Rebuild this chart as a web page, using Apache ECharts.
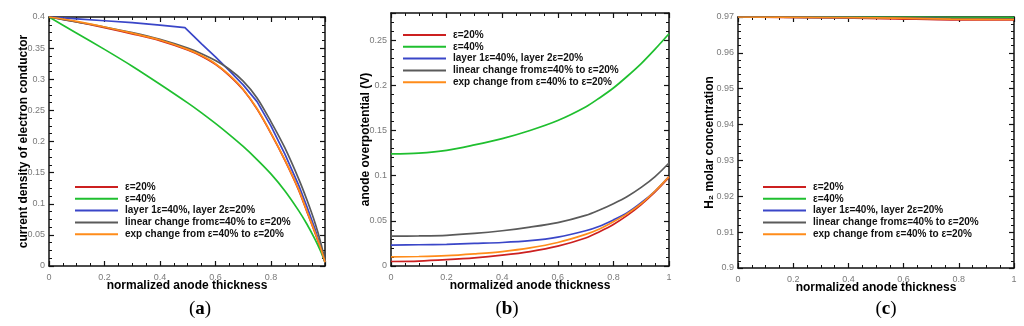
<!DOCTYPE html>
<html>
<head>
<meta charset="utf-8">
<script src="https://cdn.jsdelivr.net/npm/echarts@6/dist/echarts.min.js"></script>
<style>html,body{margin:0;padding:0;background:#fff}#c{width:1024px;height:326px}</style>
</head>
<body>
<div id="c"></div>
<script>
// ---------- data ----------
var seriesNames = ['ε=20%', 'ε=40%', 'layer 1ε=40%, layer 2ε=20%', 'linear change fromε=40% to ε=20%', 'exp change from ε=40% to ε=20%'];

// panel (a): current density of electron conductor
var xA      = [0, 0.1, 0.2, 0.3, 0.4, 0.5, 0.55, 0.6, 0.65, 0.7, 0.75, 0.8, 0.85, 0.9, 0.93, 0.96, 0.98, 0.995];
var aRed    = [0.400, 0.392, 0.383, 0.373, 0.362, 0.347, 0.337, 0.324, 0.306, 0.283, 0.252, 0.213, 0.170, 0.122, 0.087, 0.052, 0.027, 0.006];
var aGreen  = [0.400, 0.374, 0.348, 0.321, 0.292, 0.262, 0.246, 0.229, 0.211, 0.192, 0.171, 0.148, 0.121, 0.089, 0.067, 0.042, 0.023, 0.006];
var aGray   = [0.400, 0.392, 0.384, 0.375, 0.364, 0.350, 0.341, 0.330, 0.316, 0.297, 0.270, 0.232, 0.190, 0.140, 0.106, 0.068, 0.037, 0.008];
var aOrange = [0.400, 0.393, 0.384, 0.374, 0.363, 0.348, 0.338, 0.325, 0.307, 0.284, 0.253, 0.214, 0.171, 0.123, 0.088, 0.053, 0.028, 0.006];
var xABlue  = [0, 0.1, 0.2, 0.3, 0.4, 0.49, 0.55, 0.6, 0.65, 0.7, 0.75, 0.8, 0.85, 0.9, 0.93, 0.96, 0.98, 0.995];
var aBlue   = [0.400, 0.397, 0.394, 0.391, 0.387, 0.383, 0.357, 0.336, 0.314, 0.291, 0.264, 0.225, 0.180, 0.130, 0.095, 0.058, 0.030, 0.006];

// panel (b): anode overpotential (V)
var xB      = [0, 0.1, 0.2, 0.3, 0.4, 0.5, 0.6, 0.7, 0.75, 0.8, 0.85, 0.9, 0.95, 1.0];
var bRed    = [0.005, 0.0055, 0.007, 0.009, 0.012, 0.016, 0.022, 0.031, 0.038, 0.046, 0.056, 0.068, 0.082, 0.098];
var bGreen  = [0.124, 0.125, 0.128, 0.134, 0.141, 0.150, 0.161, 0.176, 0.186, 0.197, 0.210, 0.224, 0.240, 0.257];
var bBlue   = [0.023, 0.0235, 0.024, 0.025, 0.026, 0.028, 0.032, 0.039, 0.044, 0.051, 0.059, 0.070, 0.083, 0.099];
var bGray   = [0.033, 0.0333, 0.034, 0.036, 0.039, 0.043, 0.048, 0.056, 0.062, 0.069, 0.077, 0.087, 0.099, 0.114];
var bOrange = [0.010, 0.0105, 0.0115, 0.0135, 0.016, 0.020, 0.026, 0.035, 0.041, 0.049, 0.058, 0.069, 0.083, 0.099];

// panel (c): H2 molar concentration
var xC      = [0, 0.27, 0.57, 0.77, 1.0];
var cRed    = [0.9700, 0.9698, 0.9695, 0.9692, 0.9692];
var cGreen  = [0.9700, 0.9700, 0.9700, 0.9699, 0.9699];
var cBlue   = [0.9700, 0.9699, 0.9697, 0.9695, 0.9694];
var cGray   = [0.9700, 0.9699, 0.9698, 0.9696, 0.9695];
var cOrange = [0.9700, 0.9699, 0.9697, 0.9694, 0.9693];

var panelLabels = ['a', 'b', 'c'];

// ---------- styling ----------
var colors = ['#cc2020', '#1fbf2f', '#3a46c8', '#5a5a5a', '#ff8c1a'];
var FONT = 'Liberation Sans, Arial, sans-serif';

function zip(xs, ys) { return xs.map(function (x, i) { return [x, ys[i]]; }); }

var grids = [
  {left: 49, top: 17, width: 276, height: 249},
  {left: 391, top: 13, width: 278, height: 253},
  {left: 738, top: 17, width: 276, height: 251}
];

function axisBase(extra) {
  var o = {
    type: 'value',
    nameMoveOverlap: false,
    axisLine: {show: true, onZero: false, lineStyle: {color: '#111', width: 1.5}},
    axisTick: {show: true, inside: true, length: 5, lineStyle: {color: '#111', width: 1.2}},
    minorTick: {show: true, splitNumber: 4, length: 3, lineStyle: {color: '#111', width: 1}},
    splitLine: {show: false},
    axisLabel: {show: true, color: '#7a7a7a', fontSize: 9, fontFamily: FONT},
    nameTextStyle: {color: '#000', fontWeight: 'bold', fontSize: 12, fontFamily: FONT}
  };
  for (var k in extra) o[k] = extra[k];
  return o;
}

var xDefs = [
  {min: 0, max: 0.995, interval: 0.2},
  {min: 0, max: 1, interval: 0.2},
  {min: 0, max: 1, interval: 0.2}
];
var yDefs = [
  {min: 0, max: 0.4, interval: 0.05, name: 'current density of electron conductor', gap: 19, minor: 4},
  {min: 0, max: 0.28, interval: 0.05, name: 'anode overpotential (V)', gap: 19, minor: 5},
  {min: 0.9, max: 0.97, interval: 0.01, name: 'H₂ molar concentration', gap: 22, minor: 5}
];

var xAxes = [], yAxes = [];
for (var g = 0; g < 3; g++) {
  var xd = xDefs[g], yd = yDefs[g];
  var xb = axisBase({gridIndex: g, position: 'bottom', min: xd.min, max: xd.max, interval: xd.interval,
    name: 'normalized anode thickness', nameLocation: 'middle', nameGap: 14});
  xb.axisLabel.margin = 7;
  xb.axisLabel.showMaxLabel = (g !== 0);
  xb.axisLabel.showMinLabel = true;
  xAxes.push(xb);
  var xt = axisBase({gridIndex: g, position: 'top', min: xd.min, max: xd.max, interval: xd.interval});
  xt.axisLabel = {show: false};
  xAxes.push(xt);

  var yl = axisBase({gridIndex: g, position: 'left', min: yd.min, max: yd.max, interval: yd.interval,
    name: yd.name, nameLocation: 'middle', nameGap: yd.gap});
  yl.minorTick.splitNumber = yd.minor;
  yl.axisLabel.margin = 4;
  yl.axisLabel.showMaxLabel = (g !== 1);
  yAxes.push(yl);
  var yr = axisBase({gridIndex: g, position: 'right', min: yd.min, max: yd.max, interval: yd.interval});
  yr.minorTick.splitNumber = yd.minor;
  yr.axisLabel = {show: false};
  yAxes.push(yr);
}

var panelData = [
  [zip(xA, aRed), zip(xA, aGreen), zip(xABlue, aBlue), zip(xA, aGray), zip(xA, aOrange)],
  [zip(xB, bRed), zip(xB, bGreen), zip(xB, bBlue), zip(xB, bGray), zip(xB, bOrange)],
  [zip(xC, cRed), zip(xC, cGreen), zip(xC, cBlue), zip(xC, cGray), zip(xC, cOrange)]
];

var series = [];
for (var p = 0; p < 3; p++) {
  for (var s = 0; s < 5; s++) {
    series.push({
      type: 'line', name: seriesNames[s],
      xAxisIndex: p * 2, yAxisIndex: p * 2,
      data: panelData[p][s],
      symbol: 'none',
      smooth: (p === 0 && s === 2) ? false : 0.3,
      lineStyle: {color: colors[s], width: 1.7},
      itemStyle: {color: colors[s]},
      z: 2 + s
    });
  }
}

var legendPos = [{left: 75, top: 182}, {left: 403, top: 30}, {left: 763, top: 182}];
var legends = legendPos.map(function (pos) {
  return {
    data: seriesNames.map(function (n) { return {name: n, icon: 'rect'}; }),
    orient: 'vertical', left: pos.left, top: pos.top,
    padding: 0, itemWidth: 43, itemHeight: 2, itemGap: 1.8,
    selectedMode: false,
    itemStyle: {borderWidth: 0},
    textStyle: {color: '#111', fontSize: 10, lineHeight: 10, fontWeight: 'bold', fontFamily: FONT, padding: [0, 0, 0, 2]}
  };
});

var labelPos = [[200, 309], [507, 309], [886, 309]];
var graphics = labelPos.map(function (pt, i) {
  return {
    type: 'text', x: pt[0], y: pt[1],
    style: {
      text: '{p|(}{b|' + panelLabels[i] + '}{p|)}',
      align: 'center', verticalAlign: 'middle',
      rich: {
        p: {fontFamily: 'Liberation Serif, serif', fontSize: 19, fill: '#000'},
        b: {fontFamily: 'Liberation Serif, serif', fontSize: 19, fontWeight: 'bold', fill: '#000'}
      }
    }
  };
});

var chart = echarts.init(document.getElementById('c'), null, {renderer: 'canvas'});
chart.setOption({
  animation: false,
  backgroundColor: '#fff',
  grid: grids,
  xAxis: xAxes,
  yAxis: yAxes,
  legend: legends,
  series: series,
  graphic: graphics
});
</script>
</body>
</html>
